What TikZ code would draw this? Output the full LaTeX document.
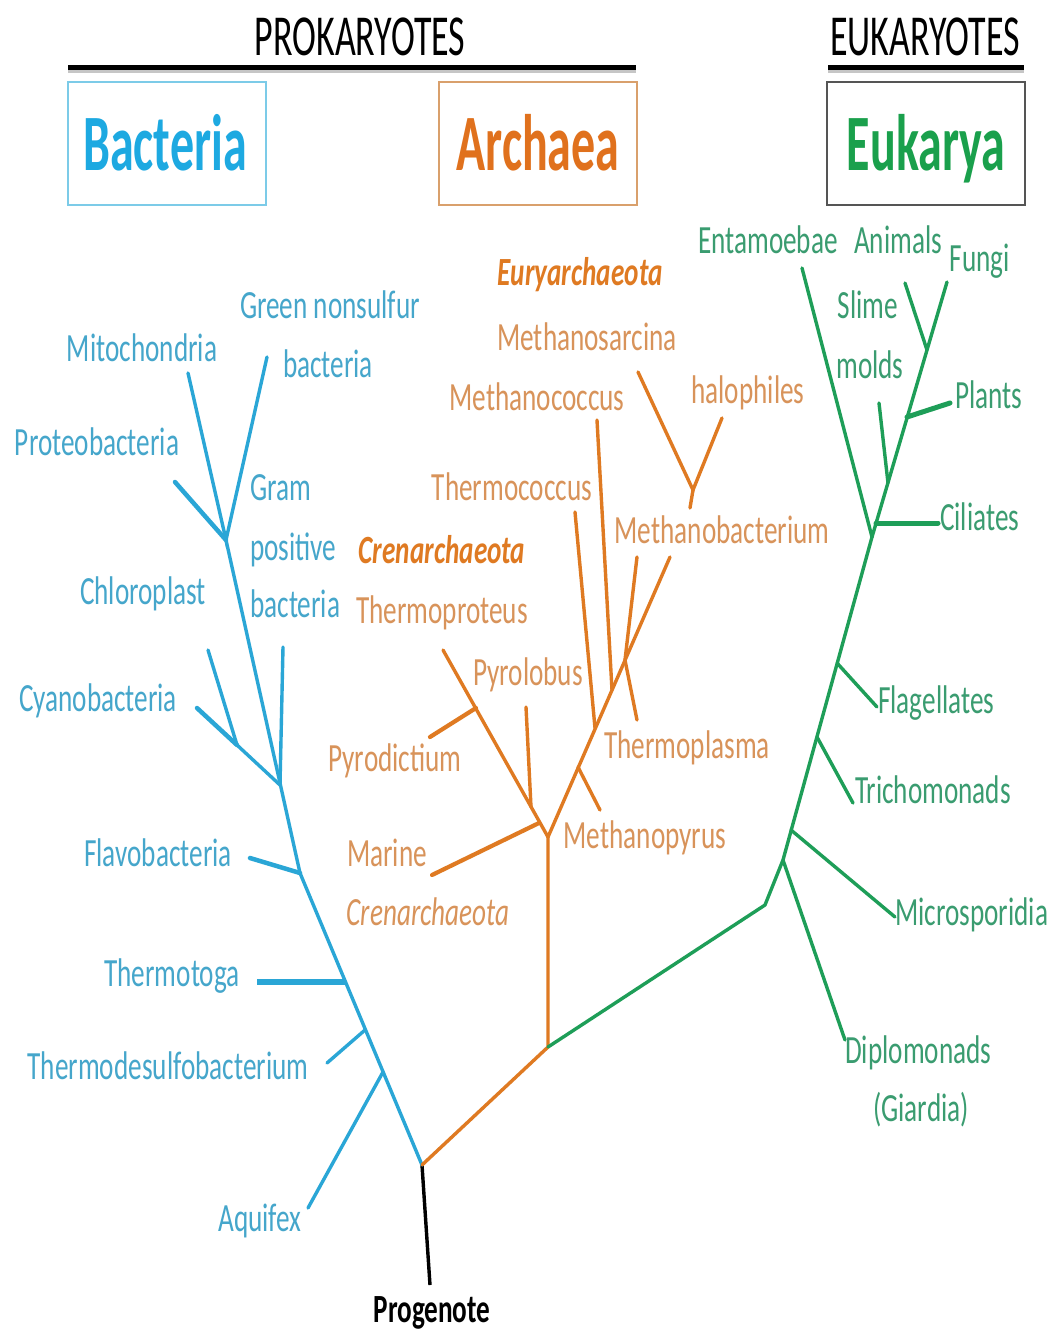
\documentclass[tikz,border=0pt]{standalone}
\usepackage{fontspec}
\setmainfont{Carlito}[FakeStretch=0.68]
\newfontfamily\headfont{Carlito}[FakeStretch=0.6]
\newfontfamily\topfont{Carlito}[FakeStretch=0.62]
\definecolor{bline}{HTML}{2AA6D6}
\definecolor{btext}{HTML}{45A6CB}
\definecolor{bhead}{HTML}{1DA9E1}
\definecolor{bbox}{HTML}{7CCBE8}
\definecolor{oline}{HTML}{DF7A22}
\definecolor{otext}{HTML}{D8935A}
\definecolor{ohead}{HTML}{E0711D}
\definecolor{obox}{HTML}{D9A06C}
\definecolor{gline}{HTML}{1E9E58}
\definecolor{gtext}{HTML}{3A9C70}
\definecolor{ghead}{HTML}{1AA04C}
\definecolor{gbox}{HTML}{555555}
\tikzset{
  lbl/.style={inner sep=0pt, anchor=base, font=\fontsize{40}{48}\selectfont},
  bl/.style={lbl, text=btext},
  ol/.style={lbl, text=otext},
  gl/.style={lbl, text=gtext},
  topl/.style={inner sep=0pt, anchor=base, font=\topfont\fontsize{58}{64}\selectfont},
  headl/.style={inner sep=0pt, anchor=base, font=\headfont\bfseries\fontsize{80}{90}\selectfont},
  domainbox/.style={draw, line width=1.5pt, minimum width=198pt, minimum height=123pt, inner sep=0pt},
  bbr/.style={draw=bline, line width=3.4pt, line cap=round},
  obr/.style={draw=oline, line width=3.4pt, line cap=round},
  gbr/.style={draw=gline, line width=3.4pt, line cap=round},
  hbar/.style={draw=black, line width=5pt},
}
\begin{document}
\begin{tikzpicture}[x=1pt,y=-1pt]
\useasboundingbox (0,0) rectangle (1060,1334);
\fill[white] (0,0) rectangle (1060,1334);

% ---------- header ----------
\node[topl] (prok) at (360,55) {PROKARYOTES};
\node[topl] (euk) at (925,55) {EUKARYOTES};
\coordinate (pbarL) at (68,67);
\coordinate (pbarR) at (636,67);
\coordinate (ebarL) at (828,67);
\coordinate (ebarR) at (1024,67);
\draw[draw=gray!45, line width=3pt] ([yshift=-4pt]pbarL) -- ([yshift=-4pt]pbarR);
\draw[draw=gray!45, line width=3pt] ([yshift=-4pt]ebarL) -- ([yshift=-4pt]ebarR);
\draw[hbar] (pbarL) -- (pbarR);
\draw[hbar] (ebarL) -- (ebarR);

\node[domainbox, draw=bbox] (bacbox) at (167,143.5) {};
\node[domainbox, draw=obox] (arcbox) at (538,143.5) {};
\node[domainbox, draw=gbox] (eukbox) at (926,143.5) {};
\node[headl, text=bhead] (bact) at (165,170) {Bacteria};
\node[headl, text=ohead] (arch) at (538,170) {Archaea};
\node[headl, text=ghead] (euka) at (926,170) {Eukarya};

% ---------- coordinates ----------
\coordinate (root) at (422,1165);
\coordinate (prog) at (430,1285);
% bacteria
\coordinate (bJ1) at (226,540);
\coordinate (bMito) at (188,373);
\coordinate (bGreen) at (267,357);
\coordinate (bProt) at (175,482);
\coordinate (bJ2) at (280,785);
\coordinate (bGram) at (283,647);
\coordinate (bCyan) at (197,708);
\coordinate (bChlJ) at (237,745);
\coordinate (bChl) at (208,650);
\coordinate (bJ3) at (300,873);
\coordinate (bFlav) at (250,858);
\coordinate (bJ4) at (345,982);
\coordinate (bTmt) at (257,982);
\coordinate (bJ5) at (365,1030);
\coordinate (bTds) at (327,1063);
\coordinate (bJ6) at (383,1072);
\coordinate (bAqu) at (308,1208);
% archaea
\coordinate (oJ0) at (548,1047);
\coordinate (oJ1) at (548,837);
\coordinate (oTpr) at (443,650);
\coordinate (oPdJ) at (476,708);
\coordinate (oPd) at (430,737);
\coordinate (oPl) at (526,707);
\coordinate (oPlJ) at (531,807);
\coordinate (oMar) at (432,875);
\coordinate (oMarJ) at (539,823);
\coordinate (oTop) at (670,557);
\coordinate (oMpJ) at (578,767);
\coordinate (oMp) at (600,810);
\coordinate (oTcJ) at (595,728);
\coordinate (oTc) at (575,512);
\coordinate (oMcJ) at (612,690);
\coordinate (oMc) at (597,420);
\coordinate (oMbJ) at (625,660);
\coordinate (oMb) at (637,557);
\coordinate (oTpl) at (637,720);
\coordinate (oMs) at (638,372);
\coordinate (oHal) at (722,418);
\coordinate (oHJ) at (693,490);
\coordinate (oHt) at (690,508);
% eukarya
\coordinate (gK1) at (765,905);
\coordinate (gK2) at (783,860);
\coordinate (gJ) at (872,537);
\coordinate (gDip) at (845,1040);
\coordinate (gMsJ) at (791,830);
\coordinate (gMs) at (895,917);
\coordinate (gTrJ) at (817,737);
\coordinate (gTr) at (853,803);
\coordinate (gFlJ) at (837,663);
\coordinate (gFl) at (877,707);
\coordinate (gCiJ) at (876,523);
\coordinate (gCi) at (938,523);
\coordinate (gEnt) at (802,268);
\coordinate (gFun) at (947,282);
\coordinate (gSl) at (879,403);
\coordinate (gSlJ) at (888,483);
\coordinate (gPlJ) at (907,417);
\coordinate (gPl) at (950,403);
\coordinate (gAn) at (905,283);
\coordinate (gAnJ) at (927,350);

% ---------- branches ----------
\draw[draw=black, line width=3.4pt] (root) -- (prog);
% bacteria
\draw[bbr] (root) -- (bJ3) -- (bJ1);
\draw[bbr] (bMito) -- (bJ1) -- (bGreen);
\draw[bbr, line width=4.5pt] (bProt) -- (bJ1);
\draw[bbr] (bGram) -- (bJ2);
\draw[bbr, line width=4.5pt] (bCyan) -- (bChlJ);
\draw[bbr] (bChlJ) -- (bJ2);
\draw[bbr] (bChl) -- (bChlJ);
\draw[bbr, line width=4.5pt] (bFlav) -- (bJ3);
\draw[bbr, line width=6pt, line cap=butt] (bTmt) -- (bJ4);
\draw[bbr] (bTds) -- (bJ5);
\draw[bbr] (bAqu) -- (bJ6);
% archaea
\draw[obr] (root) -- (oJ0) -- (oJ1);
\draw[obr] (oJ1) -- (oTpr);
\draw[obr, line width=4.2pt] (oPd) -- (oPdJ);
\draw[obr] (oPl) -- (oPlJ);
\draw[obr, line width=4.2pt] (oMar) -- (oMarJ);
\draw[obr] (oJ1) -- (oTop);
\draw[obr] (oMp) -- (oMpJ);
\draw[obr] (oTc) -- (oTcJ);
\draw[obr] (oMc) -- (oMcJ);
\draw[obr] (oMb) -- (oMbJ) -- (oTpl);
\draw[obr] (oMs) -- (oHJ) -- (oHal);
\draw[obr] (oHJ) -- (oHt);
% eukarya
\draw[gbr] (oJ0) -- (gK1) -- (gK2) -- (gJ);
\draw[gbr] (gK2) -- (gDip);
\draw[gbr] (gMsJ) -- (gMs);
\draw[gbr] (gTrJ) -- (gTr);
\draw[gbr] (gFlJ) -- (gFl);
\draw[gbr] (gJ) -- (gEnt);
\draw[gbr] (gJ) -- (gFun);
\draw[gbr, line width=5pt] (gCiJ) -- (gCi);
\draw[gbr] (gSl) -- (gSlJ);
\draw[gbr, line width=5pt] (gPlJ) -- (gPl);
\draw[gbr] (gAn) -- (gAnJ);

% ---------- labels ----------
\node[lbl, font=\bfseries\fontsize{40}{48}\selectfont, text=black] (tprog) at (432,1322) {Progenote};
% bacteria
\node[bl] (tgreen) at (330,318) {Green nonsulfur};
\node[bl] (tgreen2) at (328,377) {bacteria};
\node[bl] (tmito) at (142,361) {Mitochondria};
\node[bl] (tprot) at (97,455) {Proteobacteria};
\node[bl, anchor=base west] (tgram) at (250,500) {Gram};
\node[bl, anchor=base west] (tgram2) at (250,560) {positive};
\node[bl, anchor=base west] (tgram3) at (250,617) {bacteria};
\node[bl] (tchl) at (143,604) {Chloroplast};
\node[bl] (tcyan) at (98,711) {Cyanobacteria};
\node[bl] (tflav) at (158,866) {Flavobacteria};
\node[bl] (ttmt) at (172,986) {Thermotoga};
\node[bl] (ttds) at (168,1079) {Thermodesulfobacterium};
\node[bl] (taqu) at (260,1231) {Aquifex};
% archaea
\node[ol, text=oline, font=\bfseries\itshape\fontsize{40}{48}\selectfont] (teury) at (580,285) {Euryarchaeota};
\node[ol] (tms) at (587,350) {Methanosarcina};
\node[ol] (tmc) at (537,410) {Methanococcus};
\node[ol] (thal) at (748,403) {halophiles};
\node[ol] (ttc) at (512,500) {Thermococcus};
\node[ol] (tmb) at (722,543) {Methanobacterium};
\node[ol, text=oline, font=\bfseries\itshape\fontsize{40}{48}\selectfont] (tcren) at (442,563) {Crenarchaeota};
\node[ol] (ttpr) at (442,623) {Thermoproteus};
\node[ol] (tpl) at (528,685) {Pyrolobus};
\node[ol] (ttpl) at (687,758) {Thermoplasma};
\node[ol] (tpd) at (395,771) {Pyrodictium};
\node[ol] (tmp) at (645,848) {Methanopyrus};
\node[ol] (tmar) at (387,866) {Marine};
\node[ol, font=\itshape\fontsize{40}{48}\selectfont] (tmar2) at (428,925) {Crenarchaeota};
% eukarya
\node[gl] (tent) at (768,253) {Entamoebae};
\node[gl] (tani) at (898,253) {Animals};
\node[gl] (tfun) at (980,271) {Fungi};
\node[gl] (tsl) at (868,318) {Slime};
\node[gl] (tsl2) at (870,378) {molds};
\node[gl, anchor=base west] (tpla) at (955,408) {Plants};
\node[gl, anchor=base west] (tcil) at (940,530) {Ciliates};
\node[gl, anchor=base west] (tfla) at (878,713) {Flagellates};
\node[gl, anchor=base west] (ttri) at (855,803) {Trichomonads};
\node[gl, anchor=base west] (tmic) at (895,925) {Microsporidia};
\node[gl, anchor=base west] (tdip) at (845,1063) {Diplomonads};
\node[gl] (tgia) at (921,1121) {(Giardia)};
\end{tikzpicture}
\end{document}
